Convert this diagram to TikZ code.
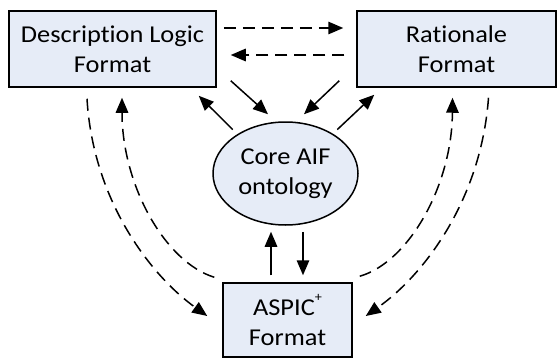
\documentclass[tikz,border=0pt]{standalone}
\usepackage{fontspec}
\setmainfont[FakeStretch=1.09,RawFeature=-liga]{Carlito}
\usetikzlibrary{arrows.meta,shapes.geometric,calc}
\definecolor{boxfill}{RGB}{230,236,247}
\newcommand{\plussup}{\raisebox{0.55em}{\fontsize{13}{13}\selectfont +}}
\begin{document}
\begin{tikzpicture}[x=1pt,y=-1pt,
  fmtbox/.style={draw=black,line width=1.5pt,fill=boxfill,align=center,
    inner sep=0pt,font=\fontsize{24.2}{30}\selectfont},
  coreell/.style={ellipse,draw=black,line width=1.5pt,fill=boxfill,align=center,
    inner sep=0pt,font=\fontsize{24.2}{30}\selectfont},
  link/.style={line width=1.5pt,-{Triangle[length=15pt,width=12.5pt]}},
  dlink/.style={link,dash pattern=on 12pt off 7pt}]
\useasboundingbox (0,0) rectangle (557,359);

\node[fmtbox,minimum width=207pt,minimum height=76pt] (dl) at (112.5,49)
  {Description Logic\\Format};
\node[fmtbox,minimum width=199pt,minimum height=76pt] (rat) at (456.5,49)
  {Rationale\\Format};
\node[coreell,minimum width=145pt,minimum height=103pt] (ell) at (285.5,173.5)
  {Core AIF\\ontology};
\node[fmtbox,minimum width=129pt,minimum height=74pt] (asp) at (287.5,320)
  {ASPIC\plussup\\Format};

% dashed links between the two upper formats
\draw[dlink] ($(dl.east)+(7,-21)$) -- ($(rat.west)+(-13,-21)$);
\draw[dlink] ($(rat.west)+(-12,6)$) -- ($(dl.east)+(14,6)$);

% solid links to and from the core ontology
\draw[link] ($(dl.south east)+(14,-7)$) -- ($(ell.north)+(-17.5,-7)$);
\draw[link] ($(ell.north west)+(-1,-7)$) -- ($(dl.south east)+(-18,8)$);
\draw[link] ($(rat.south west)+(-17,-7)$) -- ($(ell.north)+(18.5,-7)$);
\draw[link] ($(ell.north east)+(0,-7)$) -- ($(rat.south west)+(18,7)$);
\draw[link] ($(asp.north)+(-16.5,-7)$) -- ($(ell.south)+(-14.5,6)$);
\draw[link] ($(ell.south)+(17.5,6)$) -- ($(asp.north)+(15.5,-7)$);

% curved dashed links to and from the ASPIC+ format
\draw[dlink] ($(dl.south)+(-25.5,11)$) .. controls (93,200) and (150,275) .. ($(asp.west)+(-15,-4)$);
\draw[dlink] ($(asp.north west)+(-8,-5)$) .. controls (165,262) and (122,185) .. ($(dl.south)+(9.5,10)$);
\draw[dlink] ($(asp.north east)+(7,-6)$) .. controls (409,262) and (452,185) .. ($(rat.south)+(-4,10)$);
\draw[dlink] ($(rat.south)+(32,10)$) .. controls (481,200) and (424,275) .. ($(asp.east)+(13,-4)$);
\end{tikzpicture}
\end{document}
